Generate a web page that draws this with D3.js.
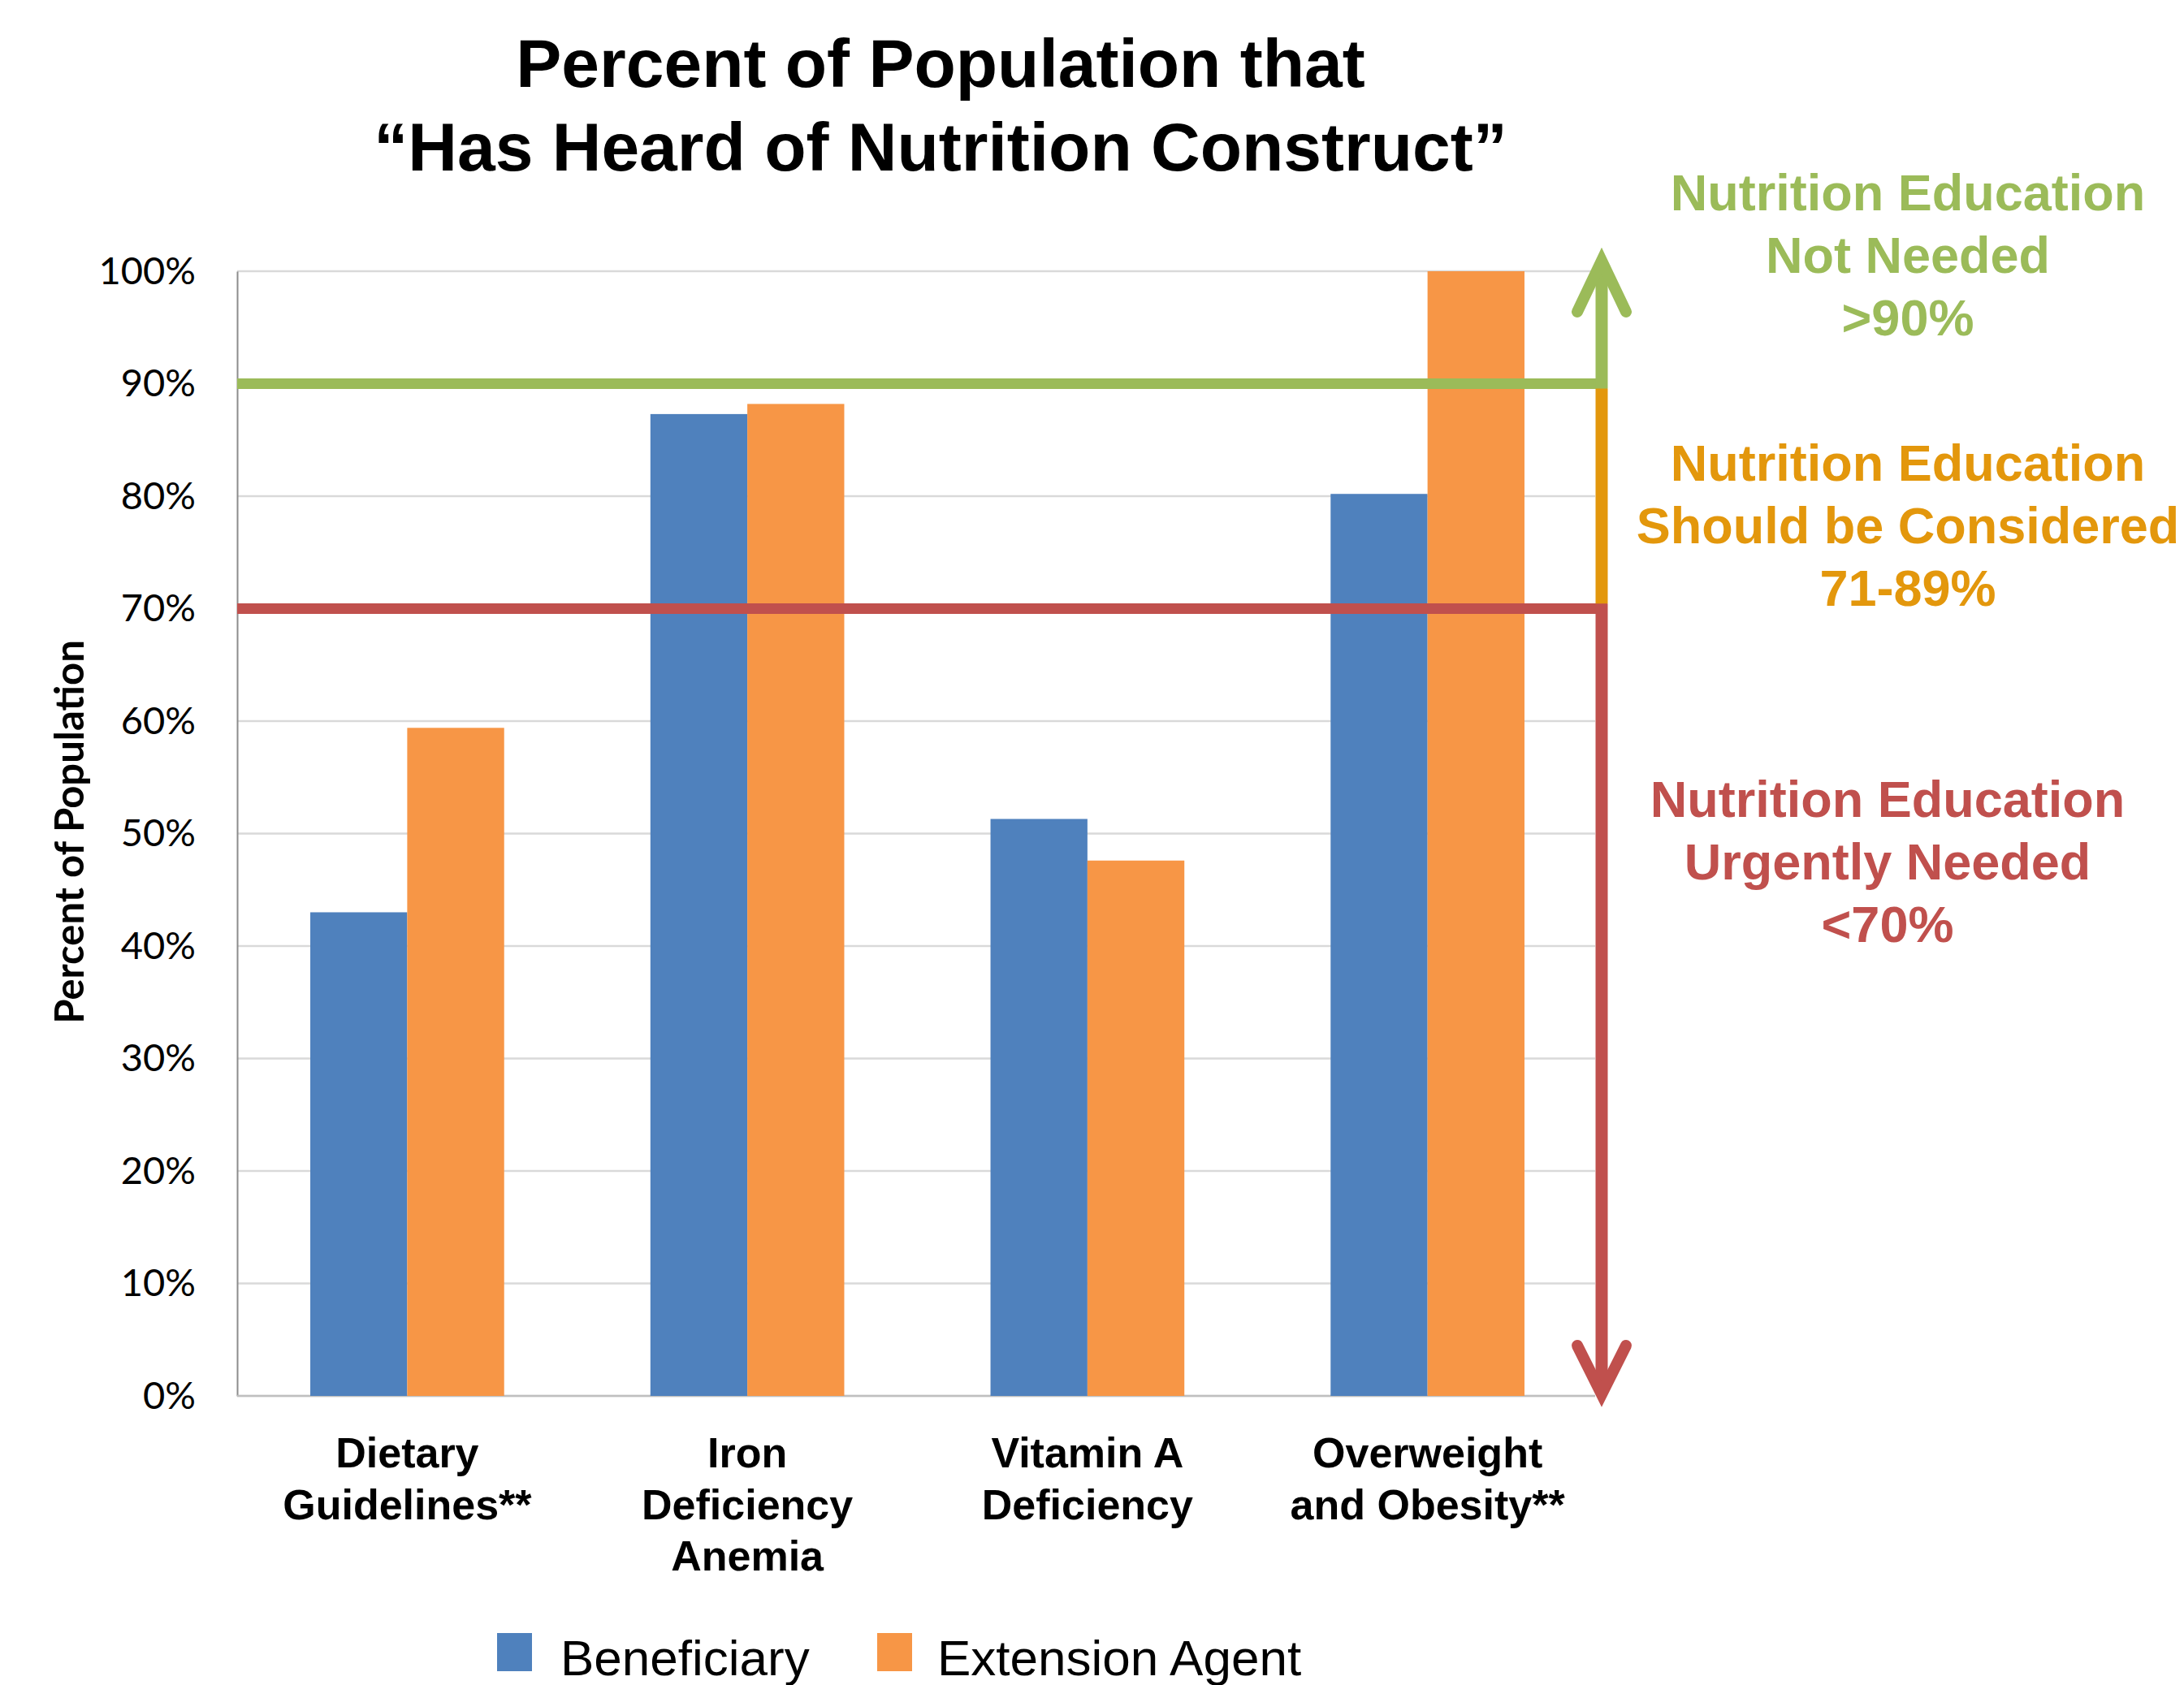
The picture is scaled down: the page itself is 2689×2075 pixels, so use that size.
<!DOCTYPE html>
<html>
<head>
<meta charset="utf-8">
<script src="https://cdn.jsdelivr.net/npm/d3@7"></script>
<style>
  body { margin: 0; background: #fff; }
  svg { display: block; }
</style>
</head>
<body>
<script>
var W = 2689, H = 2075;

// data
var categories = [["Dietary", "Guidelines**"], ["Iron", "Deficiency", "Anemia"], ["Vitamin A", "Deficiency"], ["Overweight", "and Obesity**"]];
var beneficiary = [43.0, 87.3, 51.3, 80.2];
var extensionAgent = [59.4, 88.2, 47.6, 100];
var seriesNames = ["Beneficiary", "Extension Agent"];
var yTicks = [0, 10, 20, 30, 40, 50, 60, 70, 80, 90, 100];
var upperCut = 90, lowerCut = 70;
var titleLines = ["Percent of Population that", "\u201CHas Heard of Nutrition Construct\u201D"];
var notes = [
  {lines: ["Nutrition Education", "Not Needed", ">90%"], color: "#9BBB59", cx: 2349, y0: 259},
  {lines: ["Nutrition Education", "Should be Considered", "71-89%"], color: "#E3970C", cx: 2349, y0: 592},
  {lines: ["Nutrition Education", "Urgently Needed", "<70%"], color: "#C0504D", cx: 2324, y0: 1006}
];

var colors = ["#4F81BD", "#F79646"];
var green = "#9BBB59", orange = "#E3970C", red = "#C0504D";

// plot box (window.top is reserved, so prefixed names)
var plotL = 292, plotR = 1967, plotT = 334, plotB = 1719;
var arrowX = 1972;

var svg = d3.select("body").append("svg")
    .attr("width", W)
    .attr("height", H);

var x = d3.scaleBand()
    .domain(d3.range(categories.length))
    .range([plotL, plotR])
    .paddingInner(0.43)
    .paddingOuter(0.215);

var xs = d3.scaleBand()
    .domain([0, 1])
    .range([0, x.bandwidth()]);

var y = d3.scaleLinear()
    .domain([0, 100])
    .range([plotB, plotT]);

// title
svg.selectAll(".title")
    .data(titleLines)
  .enter().append("text")
    .attr("class", "title")
    .attr("x", 1158)
    .attr("y", function(d, i) { return 107 + i * 103; })
    .attr("text-anchor", "middle")
    .style("font-family", "'Liberation Sans', Arial, sans-serif")
    .style("font-weight", "bold")
    .style("font-size", "84px")
    .text(function(d) { return d; });

// gridlines
svg.selectAll(".grid")
    .data(yTicks)
  .enter().append("line")
    .attr("class", "grid")
    .attr("x1", plotL)
    .attr("x2", plotR - 3)
    .attr("y1", function(d) { return y(d); })
    .attr("y2", function(d) { return y(d); })
    .style("stroke", "#D9D9D9")
    .style("stroke-width", 2.5);

// y axis
var yAxis = d3.axisLeft(y)
    .tickValues(yTicks)
    .tickSize(0)
    .tickPadding(51)
    .tickFormat(function(d) { return d + "%"; });

var gy = svg.append("g")
    .attr("transform", "translate(" + plotL + ",0)")
    .call(yAxis);
gy.select(".domain").style("stroke", "#8C8C8C").style("stroke-width", 2);
gy.selectAll("text")
    .style("font-family", "Lato, 'Open Sans', sans-serif")
    .style("font-size", "47px")
    .style("fill", "#000");

svg.append("line")
    .attr("x1", plotL).attr("x2", plotR - 3)
    .attr("y1", plotB).attr("y2", plotB)
    .style("stroke", "#BFBFBF")
    .style("stroke-width", 2.5);

svg.append("text")
    .attr("transform", "translate(86," + (y(50) - 2) + ") rotate(-90)")
    .attr("text-anchor", "middle")
    .attr("dy", "0.35em")
    .style("font-family", "Lato, 'Open Sans', sans-serif")
    .style("font-weight", "bold")
    .style("font-size", "49px")
    .text("Percent of Population");

// bars
var groups = svg.selectAll(".group")
    .data(categories.map(function(c, i) { return [beneficiary[i], extensionAgent[i]]; }))
  .enter().append("g")
    .attr("class", "group")
    .attr("transform", function(d, i) { return "translate(" + x(i) + ",0)"; });

groups.selectAll("rect")
    .data(function(d) { return d; })
  .enter().append("rect")
    .attr("x", function(d, j) { return xs(j); })
    .attr("width", xs.bandwidth())
    .attr("y", function(d) { return y(d); })
    .attr("height", function(d) { return y(0) - y(d); })
    .style("fill", function(d, j) { return colors[j]; });

// category labels
var labels = svg.selectAll(".cat")
    .data(categories)
  .enter().append("text")
    .attr("class", "cat")
    .attr("text-anchor", "middle")
    .style("font-family", "'Liberation Sans', Arial, sans-serif")
    .style("font-weight", "bold")
    .style("font-size", "52px");

labels.selectAll("tspan")
    .data(function(d, i) { return d.map(function(t) { return {t: t, i: i}; }); })
  .enter().append("tspan")
    .attr("x", function(d) { return x(d.i) + x.bandwidth() / 2; })
    .attr("y", function(d, k) { return 1807 + k * 63.5; })
    .text(function(d) { return d.t; });

// threshold lines
svg.append("line")
    .attr("x1", plotL).attr("x2", arrowX + 7)
    .attr("y1", y(upperCut)).attr("y2", y(upperCut))
    .style("stroke", green).style("stroke-width", 13);

svg.append("line")
    .attr("x1", plotL).attr("x2", arrowX + 7)
    .attr("y1", y(lowerCut)).attr("y2", y(lowerCut))
    .style("stroke", red).style("stroke-width", 13);

// vertical band arrow
var tipTop = y(100) - 13, tipBottom = y(0) - 2;
svg.append("line")
    .attr("x1", arrowX).attr("x2", arrowX)
    .attr("y1", tipTop + 4).attr("y2", y(upperCut) + 6)
    .style("stroke", green).style("stroke-width", 15);
svg.append("line")
    .attr("x1", arrowX).attr("x2", arrowX)
    .attr("y1", y(upperCut) + 6).attr("y2", y(lowerCut) - 6)
    .style("stroke", orange).style("stroke-width", 15);
svg.append("line")
    .attr("x1", arrowX).attr("x2", arrowX)
    .attr("y1", y(lowerCut) - 6).attr("y2", tipBottom - 4)
    .style("stroke", red).style("stroke-width", 15);

svg.append("path")
    .attr("d", "M" + (arrowX - 30) + "," + (tipTop + 63) + "L" + arrowX + "," + tipTop + "L" + (arrowX + 30) + "," + (tipTop + 63))
    .style("fill", "none").style("stroke", green)
    .style("stroke-width", 14).style("stroke-linecap", "round").style("stroke-linejoin", "miter");

svg.append("path")
    .attr("d", "M" + (arrowX - 30) + "," + (tipBottom - 60) + "L" + arrowX + "," + tipBottom + "L" + (arrowX + 30) + "," + (tipBottom - 60))
    .style("fill", "none").style("stroke", red)
    .style("stroke-width", 14).style("stroke-linecap", "round").style("stroke-linejoin", "miter");

// notes on the right
var noteText = svg.selectAll(".note")
    .data(notes)
  .enter().append("text")
    .attr("class", "note")
    .attr("text-anchor", "middle")
    .style("font-family", "'Liberation Sans', Arial, sans-serif")
    .style("font-weight", "bold")
    .style("font-size", "63px")
    .style("fill", function(d) { return d.color; });

noteText.selectAll("tspan")
    .data(function(d) { return d.lines.map(function(t) { return {t: t, n: d}; }); })
  .enter().append("tspan")
    .attr("x", function(d) { return d.n.cx; })
    .attr("y", function(d, k) { return d.n.y0 + k * 77; })
    .text(function(d) { return d.t; });

// legend
var legendX = [612, 1080], legendTextX = [690, 1154];
var legend = svg.selectAll(".legend")
    .data(seriesNames)
  .enter().append("g")
    .attr("class", "legend");

legend.append("rect")
    .attr("x", function(d, i) { return legendX[i]; })
    .attr("y", 2011)
    .attr("width", 43)
    .attr("height", 47)
    .style("fill", function(d, i) { return colors[i]; });

legend.append("text")
    .attr("x", function(d, i) { return legendTextX[i]; })
    .attr("y", 2063)
    .style("font-family", "'Liberation Sans', Arial, sans-serif")
    .style("font-size", "62px")
    .text(function(d) { return d; });
</script>
</body>
</html>
